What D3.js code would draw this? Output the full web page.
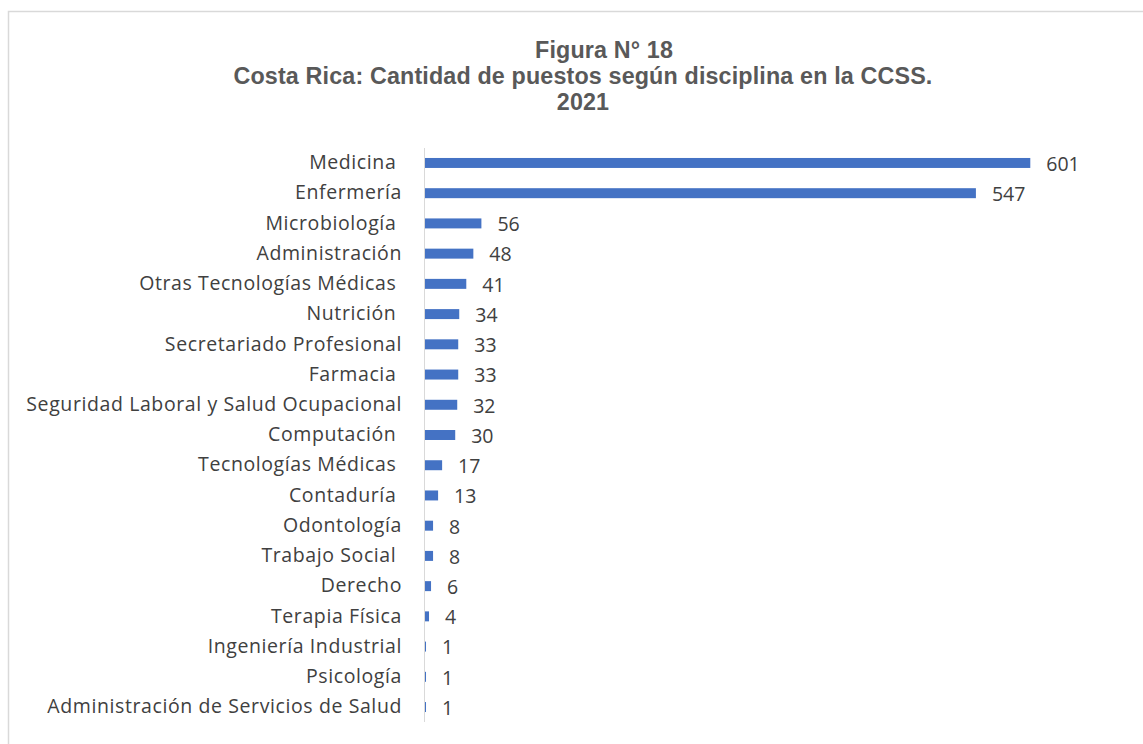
<!DOCTYPE html>
<html>
<head>
<meta charset="utf-8">
<script src="https://cdn.jsdelivr.net/npm/d3@7"></script>
<style>
  body { margin: 0; background: #fff; }
  svg text { white-space: pre; }
</style>
</head>
<body>
<svg width="1143" height="744"></svg>
<script>
// categories, top to bottom (trailing spaces as in the source sheet)
var disciplinas = ["Medicina ", "Enfermería", "Microbiología ", "Administración", "Otras Tecnologías Médicas ",
  "Nutrición ", "Secretariado Profesional", "Farmacia ", "Seguridad Laboral y Salud Ocupacional", "Computación ",
  "Tecnologías Médicas ", "Contaduría ", "Odontología", "Trabajo Social ", "Derecho", "Terapia Física",
  "Ingeniería Industrial", "Psicología", "Administración de Servicios de Salud"];
var puestos = [601, 547, 56, 48, 41, 34, 33, 33, 32, 30, 17, 13, 8, 8, 6, 4, 1, 1, 1];
var titulo = ["Figura N° 18", "Costa Rica: Cantidad de puestos según disciplina en la CCSS.", "2021"];

var svg = d3.select("svg");

// chart frame (runs off the right and bottom edge)
svg.append("rect")
  .attr("x", 8.5).attr("y", 11.5)
  .attr("width", 1200).attr("height", 800)
  .style("fill", "none").style("stroke", "#d9d9d9").style("stroke-width", 1.5);

// title
var titleX = [604, 583, 583];
var titleY = [57.5, 83.5, 109.5];
svg.selectAll(".titulo")
  .data(titulo)
  .enter().append("text")
  .attr("class", "titulo")
  .attr("x", function(d, i) { return titleX[i]; })
  .attr("y", function(d, i) { return titleY[i]; })
  .attr("text-anchor", "middle")
  .style("font-family", "'Liberation Sans', Arial, sans-serif")
  .style("font-weight", "bold")
  .style("font-size", "23.3px")
  .style("letter-spacing", "0.15px")
  .style("fill", "#595959")
  .text(function(d) { return d; });

var x = d3.scaleLinear().domain([0, 700]).range([425, 1130]);
var y = d3.scaleBand().domain(disciplinas).range([148, 722]).paddingInner(0.67).paddingOuter(0.33);

// bars
svg.selectAll(".bar")
  .data(puestos)
  .enter().append("rect")
  .attr("class", "bar")
  .attr("x", x(0))
  .attr("y", function(d, i) { return y(disciplinas[i]); })
  .attr("width", function(d) { return x(d) - x(0); })
  .attr("height", y.bandwidth())
  .style("fill", "#4472C4");

// category axis
var yAxis = svg.append("g")
  .attr("transform", "translate(" + x(0) + ",0)")
  .call(d3.axisLeft(y).tickSize(0).tickPadding(23));
yAxis.select(".domain").attr("stroke", "#d9d9d9").attr("d", "M-0.5,148V722");
yAxis.selectAll("text")
  .style("font-family", "'Open Sans', sans-serif")
  .style("font-size", "19.5px")
  .style("letter-spacing", "0.6px")
  .style("fill", "#404040");

// value labels
svg.selectAll(".valor")
  .data(puestos)
  .enter().append("text")
  .attr("class", "valor")
  .attr("x", function(d) { return x(d) + 16; })
  .attr("y", function(d, i) { return y(disciplinas[i]) + y.bandwidth() / 2 + 1; })
  .attr("dy", "0.35em")
  .style("font-family", "'Open Sans', sans-serif")
  .style("font-size", "19.5px")
  .style("fill", "#404040")
  .text(function(d) { return d; });
</script>
</body>
</html>
